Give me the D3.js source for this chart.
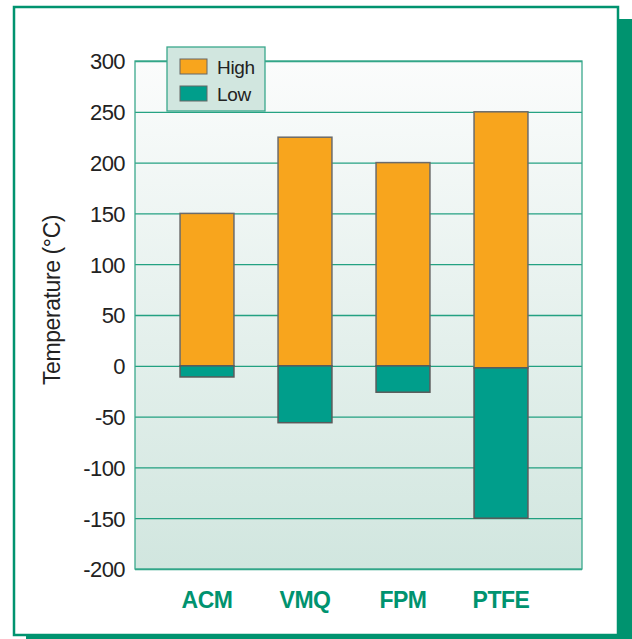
<!DOCTYPE html>
<html>
<head>
<meta charset="utf-8">
<script src="https://cdn.jsdelivr.net/npm/d3@7"></script>
<style>
  body { margin: 0; background: #fff; }
  svg { display: block; font-family: "Liberation Sans", Arial, sans-serif; }
</style>
</head>
<body>
<svg id="chart" width="632" height="639"></svg>
<script>
const materials = ["ACM", "VMQ", "FPM", "PTFE"];
const highTemps = [150, 225, 200, 250];
const lowTemps = [-11, -56, -26, -150];
const splitAt = [0, 0, 0, -2]; // where orange meets teal
const yTicks = [300, 250, 200, 150, 100, 50, 0, -50, -100, -150, -200];
const legendItems = ["High", "Low"];

const colors = { High: "#f8a51d", Low: "#009e8b" };
const teal = "#00936f";

const svg = d3.select("#chart");

// frame + drop shadow
svg.append("rect")
  .attr("x", 26).attr("y", 19).attr("width", 620).attr("height", 640)
  .attr("fill", teal);
svg.append("rect")
  .attr("x", 14).attr("y", 7).attr("width", 604).attr("height", 628)
  .attr("fill", "#fff").attr("stroke", teal).attr("stroke-width", 2.5);

const plot = { left: 135, right: 582, top: 61, bottom: 569 };

const y = d3.scaleLinear().domain([-200, 300]).range([plot.bottom, plot.top]);
const x = d3.scaleBand().domain(materials).range([158, 550])
  .paddingInner(0.45).paddingOuter(0.225);

// background gradient
const defs = svg.append("defs");
const grad = defs.append("linearGradient").attr("id", "bg")
  .attr("x1", 0).attr("y1", 0).attr("x2", 0).attr("y2", 1);
grad.append("stop").attr("offset", "0%").attr("stop-color", "#fbfcfc");
grad.append("stop").attr("offset", "100%").attr("stop-color", "#d1e6df");

svg.append("rect")
  .attr("x", plot.left).attr("y", plot.top)
  .attr("width", plot.right - plot.left).attr("height", plot.bottom - plot.top)
  .attr("fill", "url(#bg)");

// grid lines
const yAxis = d3.axisLeft(y).tickValues(yTicks)
  .tickSize(-(plot.right - plot.left)).tickPadding(10)
  .tickFormat(d => String(d));
const yAxisGroup = svg.append("g")
  .attr("transform", `translate(${plot.left},0)`)
  .call(yAxis);
yAxisGroup.select(".domain").remove();
yAxisGroup.selectAll("line").attr("stroke", teal).attr("stroke-width", 1.3).attr("opacity", 0.85);
yAxisGroup.selectAll("text")
  .attr("fill", "#222")
  .attr("font-size", "22px")
  .attr("letter-spacing", "-0.6px")
  .attr("dy", "0.36em");

svg.append("rect")
  .attr("x", plot.left).attr("y", plot.top)
  .attr("width", plot.right - plot.left).attr("height", plot.bottom - plot.top)
  .attr("fill", "none").attr("stroke", "#3aa88c").attr("stroke-width", 1.3);

// bars
const rows = materials.map((m, i) => ({ m, hi: highTemps[i], lo: lowTemps[i], mid: splitAt[i] }));
const bars = svg.append("g");
bars.selectAll(".hi").data(rows).enter().append("rect")
  .attr("x", d => x(d.m)).attr("width", x.bandwidth())
  .attr("y", d => y(d.hi)).attr("height", d => y(d.mid) - y(d.hi))
  .attr("fill", colors.High).attr("stroke", "#6b6b6b").attr("stroke-width", 1.5);
bars.selectAll(".lo").data(rows).enter().append("rect")
  .attr("x", d => x(d.m)).attr("width", x.bandwidth())
  .attr("y", d => y(d.mid)).attr("height", d => y(d.lo) - y(d.mid))
  .attr("fill", colors.Low).attr("stroke", "#5a5a5a").attr("stroke-width", 1.5);

// category labels
svg.append("g").selectAll("text").data(materials).enter().append("text")
  .attr("x", d => x(d) + x.bandwidth() / 2)
  .attr("y", 608)
  .attr("text-anchor", "middle")
  .attr("font-size", "23px").attr("font-weight", "bold")
  .attr("letter-spacing", "-0.5px")
  .attr("fill", teal)
  .text(d => d);

// y title
svg.append("text")
  .attr("transform", "translate(60,300) rotate(-90)")
  .attr("text-anchor", "middle")
  .attr("font-size", "23px").attr("fill", "#222")
  .attr("letter-spacing", "-0.4px")
  .text("Temperature (°C)");

// legend
const lg = svg.append("g");
lg.append("rect").attr("x", 167).attr("y", 47).attr("width", 98).attr("height", 64)
  .attr("fill", "#d1e6df").attr("stroke", "#3aa88c").attr("stroke-width", 1.3);
legendItems.forEach((k, i) => {
  lg.append("rect").attr("x", 180).attr("y", 59 + i * 27).attr("width", 27).attr("height", 15)
    .attr("fill", colors[k]).attr("stroke", "#666").attr("stroke-width", 1);
  lg.append("text").attr("x", 217).attr("y", 74 + i * 27)
    .attr("font-size", "19px").attr("fill", "#222")
    .attr("letter-spacing", "-0.3px").text(k);
});
</script>
</body>
</html>
